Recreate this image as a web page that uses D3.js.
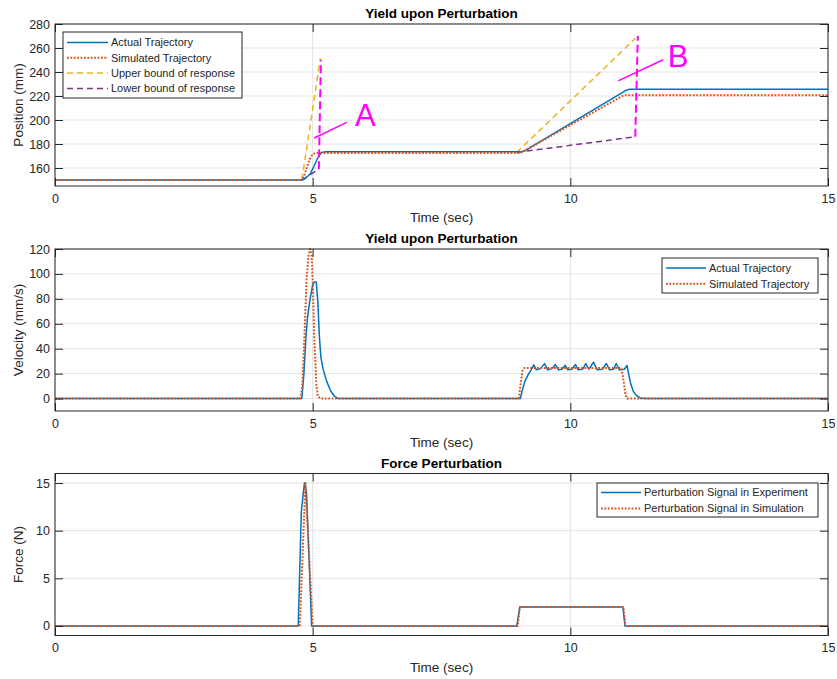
<!DOCTYPE html>
<html>
<head>
<meta charset="utf-8">
<script src="https://cdn.jsdelivr.net/npm/d3@7"></script>
<style>
  body { margin: 0; background: #fff; }
  text { font-family: "Liberation Sans", Arial, Helvetica, sans-serif; }
</style>
</head>
<body>
<div id="chart"></div>
<script>
// ---- data ----
const timeTicks = [0, 5, 10, 15];
const posTicks = [160, 180, 200, 220, 240, 260, 280];
const velTicks = [0, 20, 40, 60, 80, 100, 120];
const forceTicks = [0, 5, 10, 15];

// position (mm) [time, value]
const posActual = [[0,150],[4.79,150],[4.85,151],[4.95,155],[5.02,161],[5.1,168.5],[5.17,173],[5.25,173.6],[9.05,173.6],[9.12,174.5],[11.08,224.6],[11.15,225.7],[15,225.7]];
const posSimulated = [[0,150],[4.77,150],[4.83,153],[4.9,162],[4.95,168],[5.0,171.5],[5.06,172.4],[9.0,172.4],[9.07,173.4],[11.02,220.2],[11.08,220.7],[15,220.7]];
const posUpper = [[4.79,150],[5.15,251.5],null,[8.96,173],[11.26,268]];
const posLower = [[4.79,150],[5.12,159],null,[8.96,173],[11.26,186]];
const boundMarks = [[[5.12,159],[5.16,250]], [[11.26,186],[11.31,270]]];
const annoLines = [[[5.03,185],[5.66,198]], [[10.93,232.6],[11.8,250.2]]];
const annoLabels = [{t: 6.02, v: 195, text: 'A'}, {t: 12.09, v: 244, text: 'B'}];

// velocity (mm/s)
const velActual = [[0,0],[4.79,0],[4.83,20],[4.87,50],[4.9,65],[4.95,80],[5.0,91],[5.03,93.5],[5.07,93.5],[5.1,78],[5.13,50],[5.16,33],[5.2,24],[5.27,14],[5.35,6],[5.42,2],[5.5,0],
  [9.03,0],[9.07,7],[9.12,14],[9.18,19],[9.24,23],[9.29,27],[9.34,23],[9.42,24],[9.5,28],[9.56,23],[9.64,24],[9.71,27.3],[9.77,23],[9.84,23.5],[9.9,26.7],[9.95,23],[10.03,23.5],[10.1,27.3],[10.15,23],[10.24,23.5],[10.3,28.1],[10.36,23.5],[10.45,29.2],[10.52,23],[10.62,23.5],[10.7,28.1],[10.76,23],[10.84,23.5],[10.89,28.1],[10.95,23],[11.05,23.5],[11.1,26.5],[11.13,20],[11.17,12],[11.22,6],[11.28,2.5],[11.36,0.5],[11.45,0],[15,0]];
const velSimulated = [[0,0],[4.76,0],[4.8,10],[4.85,60],[4.88,95],[4.92,115],[4.95,120],[4.98,115],[5.0,95],[5.03,50],[5.07,12],[5.1,2],[5.15,0],
  [9.0,0],[9.03,10],[9.07,22],[9.11,24.6],[10.99,24.6],[11.03,15],[11.07,3],[11.1,0],[15,0]];

// force (N)
const forceExperiment = [[0,0],[4.72,0],[4.78,12],[4.84,15],[4.88,14],[4.98,0],[8.96,0],[9.02,2],[11.02,2],[11.06,0],[15,0]];
const forceSimulation = [[0,0],[4.75,0],[4.86,15],[5.0,0],[8.98,0],[9.02,2],[11.03,2],[11.07,0],[15,0]];

// ---- layout ----
const svgWidth = 837;
const svgHeight = 679;
const plotLeft = 55;
const plotRight = 828;
const plotHeight = 162;
const ink = '#262626';
const colors = {blue: '#0072BD', orange: '#D95319', yellow: '#EDB120', purple: '#7E2F8E', magenta: '#FF00FF'};

const styles = {
  actual:  {color: colors.blue, width: 1.5, dash: null},
  sim:     {color: colors.orange, width: 2, dash: '1.8,1.6'},
  upper:   {color: colors.yellow, width: 1.5, dash: '6,4'},
  lower:   {color: colors.purple, width: 1.5, dash: '6,4'}
};

const svg = d3.select('#chart')
            .append('svg')
            .attr('width', svgWidth)
            .attr('height', svgHeight);

const x = d3.scaleLinear().domain([0, 15]).range([plotLeft, plotRight]);

function drawPanel(cfg, idx) {
    const top = cfg.top;
    const bottom = top + plotHeight;
    const y = d3.scaleLinear().domain(cfg.yDomain).range([bottom, top]);
    const g = svg.append('g');

    g.append('rect').attr('x', plotLeft).attr('y', top)
        .attr('width', plotRight - plotLeft).attr('height', plotHeight)
        .attr('fill', '#fff');

    // grid
    g.selectAll('.hgrid').data(cfg.yTicks).enter().append('line')
        .attr('x1', plotLeft).attr('x2', plotRight)
        .attr('y1', d => y(d)).attr('y2', d => y(d))
        .attr('stroke', '#e3e3e3').attr('stroke-width', 1);
    g.selectAll('.vgrid').data(timeTicks).enter().append('line')
        .attr('x1', d => x(d)).attr('x2', d => x(d))
        .attr('y1', top).attr('y2', bottom)
        .attr('stroke', '#e3e3e3').attr('stroke-width', 1);

    const clipId = 'clip' + idx;
    svg.append('clipPath').attr('id', clipId).append('rect')
        .attr('x', plotLeft).attr('y', top - 1)
        .attr('width', plotRight - plotLeft).attr('height', plotHeight + 2);

    const line = d3.line().defined(d => d !== null).x(d => x(d[0])).y(d => y(d[1]));
    const plotG = g.append('g').attr('clip-path', `url(#${clipId})`);

    cfg.series.forEach(s => {
        plotG.append('path').datum(s.data)
            .attr('d', line)
            .attr('fill', 'none')
            .attr('stroke', s.style.color)
            .attr('stroke-width', s.style.width)
            .attr('stroke-dasharray', s.style.dash)
            .attr('stroke-linejoin', 'round');
    });

    if (cfg.extra) cfg.extra(g, y);

    // axes, ticks pointing inwards like matlab
    const bottomAxis = d3.axisBottom(x).tickValues(timeTicks).tickSizeInner(-8).tickSizeOuter(0).tickPadding(8);
    const topAxis = d3.axisTop(x).tickValues(timeTicks).tickSizeInner(-8).tickSizeOuter(0).tickFormat('');
    const leftAxis = d3.axisLeft(y).tickValues(cfg.yTicks).tickSizeInner(-8).tickSizeOuter(0).tickPadding(5);
    const rightAxis = d3.axisRight(y).tickValues(cfg.yTicks).tickSizeInner(-8).tickSizeOuter(0).tickFormat('');

    [[bottomAxis, `translate(0,${bottom})`], [topAxis, `translate(0,${top})`],
     [leftAxis, `translate(${plotLeft},0)`], [rightAxis, `translate(${plotRight},0)`]].forEach(([ax, tr]) => {
        const a = g.append('g').attr('transform', tr).call(ax);
        a.select('.domain').remove();
        a.selectAll('line').attr('stroke', ink).attr('stroke-width', 1);
        a.selectAll('text').attr('fill', ink).attr('font-size', 12.5)
            .attr('font-family', '"Liberation Sans", Arial, sans-serif');
    });

    g.append('rect').attr('x', plotLeft).attr('y', top)
        .attr('width', plotRight - plotLeft).attr('height', plotHeight)
        .attr('fill', 'none').attr('stroke', ink).attr('stroke-width', 1);

    // titles and labels
    g.append('text')
        .attr('x', (plotLeft + plotRight) / 2).attr('y', top - 6)
        .attr('text-anchor', 'middle').attr('font-weight', 'bold')
        .attr('font-size', 13.5).attr('fill', '#000')
        .text(cfg.title);

    g.append('text')
        .attr('x', (plotLeft + plotRight) / 2).attr('y', bottom + 36)
        .attr('text-anchor', 'middle').attr('font-size', 13.5).attr('fill', ink)
        .text('Time (sec)');

    g.append('text')
        .attr('transform', `translate(${cfg.yLabelX},${top + plotHeight / 2}) rotate(-90)`)
        .attr('text-anchor', 'middle').attr('font-size', 13.5).attr('fill', ink)
        .text(cfg.yLabel);

    // legend
    const lg = cfg.legend;
    g.append('rect').attr('x', lg.x).attr('y', lg.y)
        .attr('width', lg.w).attr('height', lg.h)
        .attr('fill', '#fff').attr('stroke', ink).attr('stroke-width', 1);
    lg.items.forEach((it, i) => {
        const ly = lg.y + lg.first + i * lg.step;
        g.append('line')
            .attr('x1', lg.x + 4).attr('x2', lg.x + 4 + lg.sample)
            .attr('y1', ly).attr('y2', ly)
            .attr('stroke', it.style.color).attr('stroke-width', it.style.width)
            .attr('stroke-dasharray', it.style.dash);
        g.append('text')
            .attr('x', lg.x + 7 + lg.sample).attr('y', ly)
            .attr('dy', '0.35em').attr('font-size', 11).attr('fill', ink)
            .text(it.label);
    });
}

const panels = [
    {
        top: 24, yDomain: [145, 280], yTicks: posTicks,
        title: 'Yield upon Perturbation', yLabel: 'Position (mm)', yLabelX: 23,
        series: [
            {data: posUpper, style: styles.upper},
            {data: posLower, style: styles.lower},
            {data: posActual, style: styles.actual},
            {data: posSimulated, style: styles.sim}
        ],
        extra: (g, y) => {
            const line = d3.line().x(d => x(d[0])).y(d => y(d[1]));
            boundMarks.forEach(m => {
                g.append('path').datum(m).attr('d', line)
                    .attr('stroke', colors.magenta).attr('stroke-width', 2)
                    .attr('stroke-dasharray', '8,4').attr('fill', 'none');
            });
            annoLines.forEach(m => {
                g.append('path').datum(m).attr('d', line)
                    .attr('stroke', colors.magenta).attr('stroke-width', 1.5).attr('fill', 'none');
            });
            annoLabels.forEach(a => {
                g.append('text').attr('x', x(a.t)).attr('y', y(a.v))
                    .attr('text-anchor', 'middle').attr('font-size', 31)
                    .attr('fill', colors.magenta).text(a.text);
            });
        },
        legend: {x: 63, y: 32, w: 179, h: 66, first: 10.5, step: 15.3, sample: 41,
            items: [
                {label: 'Actual Trajectory', style: styles.actual},
                {label: 'Simulated Trajectory', style: styles.sim},
                {label: 'Upper bound of response', style: styles.upper},
                {label: 'Lower bound of response', style: styles.lower}
            ]}
    },
    {
        top: 249, yDomain: [-10, 120], yTicks: velTicks,
        title: 'Yield upon Perturbation', yLabel: 'Velocity (mm/s)', yLabelX: 23,
        series: [
            {data: velActual, style: styles.actual},
            {data: velSimulated, style: styles.sim}
        ],
        legend: {x: 662, y: 258, w: 156, h: 35, first: 10, step: 15.7, sample: 40,
            items: [
                {label: 'Actual Trajectory', style: styles.actual},
                {label: 'Simulated Trajectory', style: styles.sim}
            ]}
    },
    {
        top: 473.5, yDomain: [-1, 16], yTicks: forceTicks,
        title: 'Force Perturbation', yLabel: 'Force (N)', yLabelX: 23,
        series: [
            {data: forceExperiment, style: styles.actual},
            {data: forceSimulation, style: styles.sim}
        ],
        legend: {x: 597, y: 483, w: 221, h: 34, first: 9.5, step: 16, sample: 40,
            items: [
                {label: 'Perturbation Signal in Experiment', style: styles.actual},
                {label: 'Perturbation Signal in Simulation', style: styles.sim}
            ]}
    }
];

panels.forEach((p, i) => drawPanel(p, i));
</script>
</body>
</html>
